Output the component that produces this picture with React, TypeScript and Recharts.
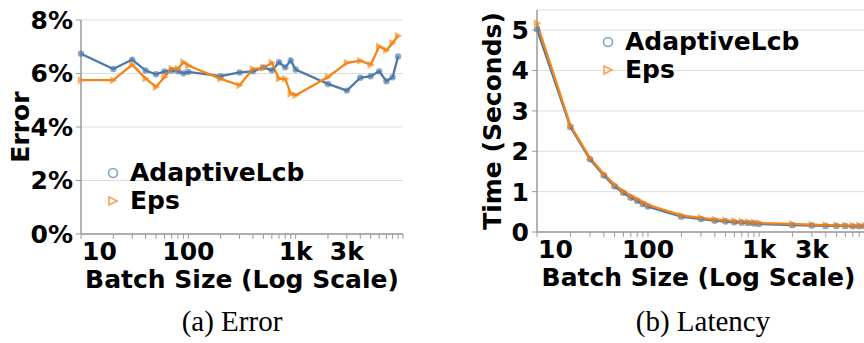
import { CartesianGrid, Legend, Line, LineChart, XAxis, YAxis } from 'recharts'

const batchSizes = [
  10, 20, 30, 40, 50, 60, 70, 80, 90,
  100, 200, 300, 400, 500, 600, 700, 800, 900,
  1000, 2000, 3000, 4000, 5000, 6000, 7000, 8000, 9000,
]

// error in percent
const errorAdaptiveLcb = [
  6.74, 6.17, 6.52, 6.11, 5.97, 6.08, 6.11, 6.08, 6.01,
  6.06, 5.9, 6.04, 6.08, 6.23, 6.12, 6.42, 6.23, 6.49,
  6.15, 5.61, 5.36, 5.84, 5.9, 6.08, 5.71, 5.86, 6.64,
]
const errorEps = [
  5.75, 5.75, 6.33, 5.81, 5.5, 5.87, 6.18, 6.18, 6.42,
  6.3, 5.8, 5.56, 6.17, 6.21, 6.4, 5.8, 5.8, 5.24,
  5.19, 5.87, 6.4, 6.48, 6.33, 7.01, 6.87, 7.14, 7.41,
]

// latency in seconds
const latencyAdaptiveLcb = [
  5.02, 2.6, 1.8, 1.4, 1.13, 0.97, 0.85, 0.77, 0.69,
  0.63, 0.38, 0.32, 0.28, 0.26, 0.24, 0.23, 0.22, 0.21,
  0.2, 0.17, 0.16, 0.15, 0.15, 0.15, 0.14, 0.14, 0.14,
]
const latencyEps = [
  5.17, 2.64, 1.84, 1.44, 1.17, 1.01, 0.89, 0.81, 0.73,
  0.67, 0.41, 0.35, 0.31, 0.29, 0.27, 0.26, 0.25, 0.24,
  0.22, 0.2, 0.18, 0.17, 0.17, 0.16, 0.16, 0.16, 0.16,
]

const xTicks = [
  10, 20, 30, 40, 50, 60, 70, 80, 90,
  100, 200, 300, 400, 500, 600, 700, 800, 900,
  1000, 2000, 3000, 4000, 5000, 6000, 7000, 8000, 9000, 10000,
]
const xTickLabels: Record<number, string> = { 10: '10', 100: '100', 1000: '1k', 3000: '3k' }
const errorTicks = [0, 2, 4, 6, 8]
const latencyTicks = [0, 1, 2, 3, 4, 5]

const BLUE = '#4c78a8'
const ORANGE = '#f58518'
const AXIS = '#9a9a9a'
const GRID = '#dddddd'
const FONT = "'DejaVu Sans', sans-serif"

const errorData = batchSizes.map((batch, i) => ({
  batch,
  adaptiveLcb: errorAdaptiveLcb[i],
  eps: errorEps[i],
}))
const latencyData = batchSizes.map((batch, i) => ({
  batch,
  adaptiveLcb: latencyAdaptiveLcb[i],
  eps: latencyEps[i],
}))

const boldText = { fontFamily: FONT, fontWeight: 700, fontSize: 25, fill: '#000' }

function CircleDot(props: any) {
  const { cx, cy, index } = props
  if (cx == null || cy == null) return <g key={index} />
  return <circle key={index} cx={cx} cy={cy} r={3.2} fill={BLUE} fillOpacity={0.65} />
}

function TriangleDot(props: any) {
  const { cx, cy, index } = props
  if (cx == null || cy == null) return <g key={index} />
  return (
    <path
      key={index}
      d={`M${cx - 3.2},${cy - 4} L${cx + 4.2},${cy} L${cx - 3.2},${cy + 4} Z`}
      fill={ORANGE}
      fillOpacity={0.65}
    />
  )
}

function BatchTick(props: any) {
  const { x, y, payload } = props
  const label = xTickLabels[payload.value]
  if (!label) return <g />
  return (
    <text
      x={payload.value === 10 ? x + 1 : x}
      y={y}
      dy={19}
      textAnchor={payload.value === 10 ? 'start' : 'middle'}
      {...boldText}
    >
      {label}
    </text>
  )
}

function SeriesLegend() {
  const rows = [
    {
      name: 'AdaptiveLcb',
      icon: <circle cx={12} cy={14} r={4.5} fill="none" stroke="#7ea3cc" strokeWidth={1.6} />,
    },
    {
      name: 'Eps',
      icon: <path d="M8,10 L16,14 L8,18 Z" fill="none" stroke="#f6a25a" strokeWidth={1.6} />,
    },
  ]
  return (
    <div style={{ fontFamily: FONT, fontWeight: 700, fontSize: 25, color: '#000' }}>
      {rows.map((r) => (
        <div key={r.name} style={{ display: 'flex', alignItems: 'center', height: 28 }}>
          <svg width={29} height={28} style={{ display: 'block' }}>
            {r.icon}
          </svg>
          <span style={{ lineHeight: '28px' }}>{r.name}</span>
        </div>
      ))}
    </div>
  )
}

function Panel({
  data,
  width,
  margin,
  yWidth,
  yDomain,
  yTicks,
  yFormat,
  yTitle,
  yTitleX,
  xTitleShift,
  legendPos,
}: {
  data: { batch: number; adaptiveLcb: number; eps: number }[]
  width: number
  margin: { top: number; right: number; bottom: number; left: number }
  yWidth: number
  yDomain: [number, number]
  yTicks: number[]
  yFormat: (v: number) => string
  yTitle: string
  yTitleX: number
  xTitleShift: number
  legendPos: { left: number; top: number }
}) {
  return (
    <LineChart width={width} height={300} data={data} margin={margin}>
      <CartesianGrid stroke={GRID} vertical={false} />
      <XAxis
        dataKey="batch"
        type="number"
        scale="log"
        domain={[10, 10000]}
        ticks={xTicks}
        interval={0}
        height={60}
        tickSize={5}
        axisLine={{ stroke: AXIS, strokeWidth: 1.5 }}
        tickLine={{ stroke: AXIS }}
        tick={<BatchTick />}
        label={{
          content: (p: any) => {
            const vb = p.viewBox || { x: 0, y: 0, width: 0 }
            return (
              <text
                x={vb.x + vb.width / 2 + xTitleShift}
                y={vb.y + 54}
                textAnchor="middle"
                {...boldText}
              >
                Batch Size (Log Scale)
              </text>
            )
          },
        }}
      />
      <YAxis
        type="number"
        domain={yDomain}
        ticks={yTicks}
        interval={0}
        width={yWidth}
        tickSize={5}
        tickMargin={3}
        tickFormatter={yFormat}
        axisLine={{ stroke: AXIS, strokeWidth: 1.5 }}
        tickLine={{ stroke: AXIS }}
        tick={boldText}
        label={{
          content: (p: any) => {
            const vb = p.viewBox || { x: 0, y: 0, height: 0 }
            const cy = vb.y + vb.height / 2
            return (
              <text
                transform={`translate(${yTitleX},${cy}) rotate(-90)`}
                textAnchor="middle"
                dominantBaseline="central"
                {...boldText}
              >
                {yTitle}
              </text>
            )
          },
        }}
      />
      <Legend
        layout="vertical"
        align="center"
        verticalAlign="middle"
        wrapperStyle={{ left: legendPos.left, top: legendPos.top, width: 'auto' }}
        content={() => <SeriesLegend />}
      />
      <Line
        dataKey="adaptiveLcb"
        name="AdaptiveLcb"
        stroke={BLUE}
        strokeWidth={2.3}
        dot={CircleDot}
        activeDot={false}
        isAnimationActive={false}
      />
      <Line
        dataKey="eps"
        name="Eps"
        stroke={ORANGE}
        strokeWidth={2.3}
        dot={TriangleDot}
        activeDot={false}
        isAnimationActive={false}
      />
    </LineChart>
  )
}

export default function App() {
  return (
    <div
      style={{
        position: 'absolute',
        left: 0,
        top: 0,
        width: 864,
        height: 343,
        overflow: 'hidden',
        background: '#fff',
      }}
    >
      <div style={{ position: 'absolute', left: 0, top: 0 }}>
        <Panel
          data={errorData}
          width={420}
          margin={{ top: 20, right: 17, bottom: 6, left: 0 }}
          yWidth={81}
          yDomain={[0, 8]}
          yTicks={errorTicks}
          yFormat={(v) => `${v}%`}
          yTitle="Error"
          yTitleX={20}
          xTitleShift={0}
          legendPos={{ left: 101, top: 159 }}
        />
      </div>
      <div style={{ position: 'absolute', left: 440, top: 0 }}>
        <Panel
          data={latencyData}
          width={430}
          margin={{ top: 10, right: 0, bottom: 8, left: 0 }}
          yWidth={97}
          yDomain={[0, 5.5]}
          yTicks={latencyTicks}
          yFormat={(v) => `${v}`}
          yTitle="Time (Seconds)"
          yTitleX={52}
          xTitleShift={-5}
          legendPos={{ left: 156, top: 28 }}
        />
      </div>
      <svg
        width={864}
        height={343}
        style={{ position: 'absolute', left: 0, top: 0, pointerEvents: 'none' }}
      >
        <text x={232} y={331} textAnchor="middle" fontFamily="'Liberation Serif', serif" fontSize={29}>
          (a) Error
        </text>
        <text x={703} y={331} textAnchor="middle" fontFamily="'Liberation Serif', serif" fontSize={29}>
          (b) Latency
        </text>
      </svg>
    </div>
  )
}
